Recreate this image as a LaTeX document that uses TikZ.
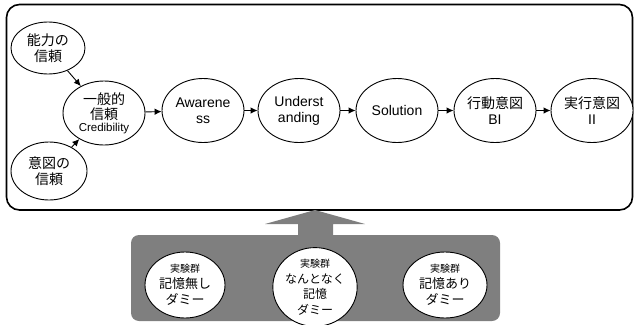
\documentclass[tikz,border=0pt]{standalone}
\usepackage{fontspec}
\setmainfont{Liberation Sans}
\newfontfamily\jp{Noto Sans CJK JP}
\usetikzlibrary{shapes.geometric,arrows.meta}
\definecolor{boxgray}{HTML}{7F7F7F}
\begin{document}
\begin{tikzpicture}[x=1pt,y=-1pt,
  ov/.style={ellipse,draw=black,line width=0.9pt,fill=white,inner sep=0pt,align=center,
    minimum width=82pt,minimum height=64pt,font=\fontsize{14}{16}\selectfont},
  gv/.style={ellipse,draw=black,line width=0.9pt,fill=white,inner sep=0pt,align=center,
    minimum width=82pt,minimum height=66pt,font=\fontsize{13}{16}\selectfont},
  conn/.style={line width=0.9pt,-{Latex[length=7pt,width=6.5pt]}},
  small/.style={font=\fontsize{10}{12}\selectfont}]
\useasboundingbox (0,0) rectangle (634,324);
% outer frame
\draw[line width=1.6pt,rounded corners=13pt] (6.5,4.5) rectangle (632.5,210);
% gray panel
\fill[boxgray,rounded corners=8pt] (131,235) rectangle (500,321);
% big arrow
\coordinate (tip) at (315,210);
\fill[boxgray] (298,236) -- (298,224) -- (265,224) -- (tip) -- (365,224) -- (333,224) -- (333,236) -- cycle;
% top row
\node[ov,minimum width=74pt,minimum height=52pt] (a) at (48,48) {\jp 能力の\\\jp 信頼};
\node[ov,minimum width=76pt,minimum height=58pt] (b) at (49,171) {\jp 意図の\\\jp 信頼};
\node[ov] (c) at (104,113) {\jp 一般的\\[-1pt]\jp 信頼\\[-4pt]{\fontsize{11.5}{13}\selectfont Credibility}};
\node[ov] (d) at (203,110.5) {Awarene\\ss};
\node[ov] (e) at (299,110.5) {Underst\\anding};
\node[ov] (f) at (397,110.5) {Solution};
\node[ov] (g) at (495,110.5) {\jp 行動意図\\BI};
\node[ov] (h) at (592,110.5) {\jp 実行意図\\II};
\draw[conn] (a) -- (c);
\draw[conn] (b) -- (c);
\draw[conn] (c) -- (d);
\draw[conn] (d) -- (e);
\draw[conn] (e) -- (f);
\draw[conn] (f) -- (g);
\draw[conn] (g) -- (h);
% gray panel ellipses
\node[gv,minimum width=80pt] (p) at (185,285) {{\jp\fontsize{10}{12}\selectfont 実験群}\\\jp 記憶無し\\\jp ダミー};
\node[gv,minimum width=84pt,minimum height=70pt,font=\fontsize{12}{15.5}\selectfont] (q) at (315,287) {{\jp\fontsize{10}{12}\selectfont 実験群}\\\jp なんとなく\\\jp 記憶\\\jp ダミー};
\node[gv,minimum width=84pt] (r) at (445,285) {{\jp\fontsize{10}{12}\selectfont 実験群}\\\jp 記憶あり\\\jp ダミー};
\end{tikzpicture}
\end{document}
